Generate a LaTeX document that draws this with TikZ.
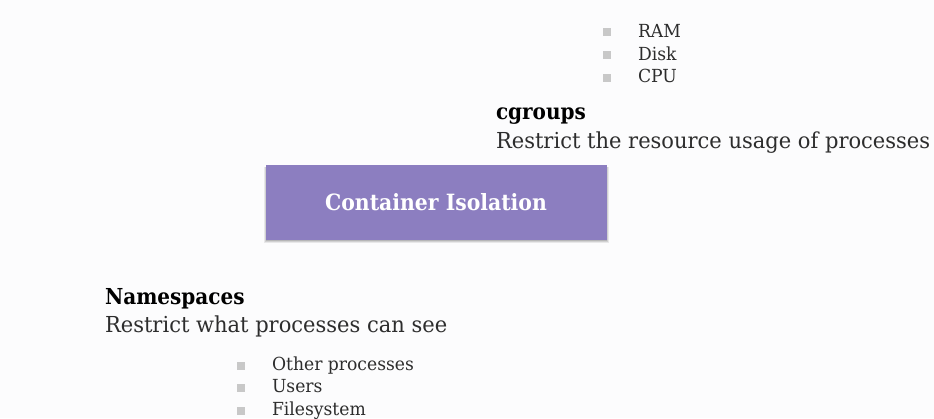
\documentclass[tikz,border=0pt]{standalone}
\usepackage{fontspec}
\setmainfont[FakeStretch=0.955, BoldFeatures={FakeStretch=0.91}]{DejaVu Serif}
\definecolor{boxc}{RGB}{140,126,192}
\definecolor{bul}{RGB}{200,200,200}
\definecolor{txt}{RGB}{45,45,45}
\definecolor{bgc}{RGB}{252,252,253}
\begin{document}
\begin{tikzpicture}[x=1bp,y=-1bp,
  lbl/.style={anchor=base west, inner sep=0pt, outer sep=0pt, text=txt, font=\fontsize{22bp}{26bp}\selectfont},
  ttl/.style={anchor=base west, inner sep=0pt, outer sep=0pt, text=black, font=\fontsize{22bp}{26bp}\selectfont\bfseries},
  item/.style={anchor=base west, inner sep=0pt, outer sep=0pt, text=txt, font=\fontsize{18bp}{22bp}\selectfont},
  bsq/.style={fill=bul, draw=none, minimum size=8bp, inner sep=0pt, outer sep=0pt, anchor=south west},
  mainbox/.style={fill=boxc, draw=none, minimum width=341bp, minimum height=75bp, inner sep=0pt, text=white, font=\fontsize{22.4bp}{27bp}\selectfont\bfseries}
]
\fill[bgc] (0,0) rectangle (934,418);
\useasboundingbox (0,0) rectangle (934,418);
% shadow
\fill[black, opacity=0.08] (264,167) rectangle (609,243);
\fill[black, opacity=0.10] (265,167) rectangle (608,242);
\fill[black, opacity=0.12] (266,167) rectangle (607,241);
\node[mainbox] (ci) at (436,202.5) {Container Isolation};
% cgroups
\node[bsq] (b1) at (603,36) {};
\node[bsq] (b2) at (603,58.5) {};
\node[bsq] (b3) at (603,81.5) {};
\node[item] (ram) at (638,37) {RAM};
\node[item] (disk) at (638,60) {Disk};
\node[item] (cpu) at (638,82) {CPU};
\node[ttl] (cg) at (496,119) {cgroups};
\node[lbl] (cgd) at (496,148) {Restrict the resource usage of processes};
% namespaces
\node[ttl] (ns) at (105,304) {Namespaces};
\node[lbl] (nsd) at (105,332) {Restrict what processes can see};
\node[bsq] (b4) at (237,370) {};
\node[bsq] (b5) at (237,392) {};
\node[bsq] (b6) at (237,415) {};
\node[item] (oth) at (272,370) {Other processes};
\node[item] (usr) at (272,392) {Users};
\node[item] (fs) at (272,415) {Filesystem};
\end{tikzpicture}
\end{document}
